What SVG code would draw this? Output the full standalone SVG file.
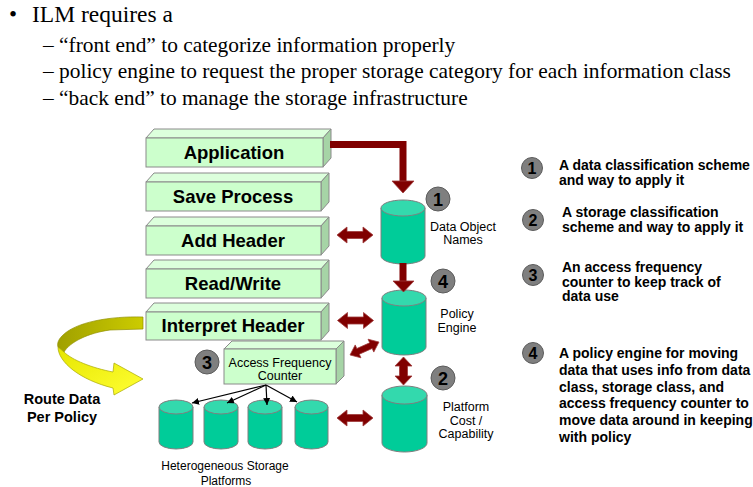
<svg xmlns="http://www.w3.org/2000/svg" width="753" height="487" viewBox="0 0 753 487">
<style>
.serif{font-family:"Liberation Serif","Times New Roman",serif;fill:#000}
.sans{font-family:"Liberation Sans",Arial,sans-serif;fill:#000}
.boxtxt{font-size:18.5px;font-weight:bold;text-anchor:middle}
.front{fill:#ccffcc;stroke:#8a8a8a;stroke-width:1}
.top{fill:#dcffdc;stroke:#8a8a8a;stroke-width:1}
.side{fill:#a6d4a6;stroke:#8a8a8a;stroke-width:1}
.cylb{fill:#00cc99;stroke:#7f7f7f;stroke-width:1}
.cylt{fill:#33d9ad;stroke:#7f7f7f;stroke-width:1}
.lbl{font-size:12.5px;text-anchor:middle}
.num{fill:#7f7f7f;stroke:#5c5c5c;stroke-width:1}
.numtxt{font-size:18px;font-weight:bold;text-anchor:middle}
.lnum{font-size:16px;font-weight:bold;text-anchor:middle}
.leg{font-size:14px;font-weight:bold}
.red{fill:#800000;stroke:#a03a3a;stroke-width:0.8}
.thin{stroke:#000;stroke-width:1.2;fill:none}
</style>
<defs>
<path id="dbl" d="M-18,0 L-8,-8 L-8,-3.5 L8,-3.5 L8,-8 L18,0 L8,8 L8,3.5 L-8,3.5 L-8,8 Z"/>
<marker id="ah" viewBox="0 0 10 10" refX="10" refY="5" markerWidth="7" markerHeight="7" orient="auto" markerUnits="userSpaceOnUse">
<path d="M0,0 L10,5 L0,10 Z" fill="#000"/>
</marker>
<linearGradient id="gYel" x1="0" y1="0" x2="1" y2="1">
<stop offset="0" stop-color="#e6e600"/>
<stop offset="1" stop-color="#ffff33"/>
</linearGradient>
<linearGradient id="gOl" x1="0" y1="0" x2="1" y2="0">
<stop offset="0" stop-color="#a0a000"/>
<stop offset="1" stop-color="#cccc00"/>
</linearGradient>
</defs>

<g id="bullets">
<text class="serif" x="9" y="22" font-size="23">•</text>
<text class="serif" x="32" y="22" font-size="23.5">ILM requires a</text>
<text class="serif" x="43" y="52" font-size="21.4">– “front end” to categorize information properly</text>
<text class="serif" x="43" y="78" font-size="21.4">– policy engine to request the proper storage category for each information class</text>
<text class="serif" x="43" y="105" font-size="21.4">– “back end” to manage the storage infrastructure</text>
</g>

<g id="application">
<polygon class="top" points="146,138 154,129 331,129 323,138"/>
<polygon class="side" points="323,138 331,129 331,158 323,167"/>
<rect class="front" x="146" y="138" width="177" height="29"/>
<text class="sans boxtxt" x="234" y="159">Application</text>
</g>
<g id="save-process">
<polygon class="top" points="146,182 154,173 329,173 321,182"/>
<polygon class="side" points="321,182 329,173 329,202 321,211"/>
<rect class="front" x="146" y="182" width="175" height="29"/>
<text class="sans boxtxt" x="233" y="203">Save Process</text>
</g>
<g id="add-header">
<polygon class="top" points="146,226 154,217 329,217 321,226"/>
<polygon class="side" points="321,226 329,217 329,246 321,255"/>
<rect class="front" x="146" y="226" width="175" height="29"/>
<text class="sans boxtxt" x="233" y="247">Add Header</text>
</g>
<g id="read-write">
<polygon class="top" points="146,269 154,260 329,260 321,269"/>
<polygon class="side" points="321,269 329,260 329,289 321,298"/>
<rect class="front" x="146" y="269" width="175" height="29"/>
<text class="sans boxtxt" x="233" y="290">Read/Write</text>
</g>
<g id="interpret-header">
<polygon class="top" points="146,312 154,303 329,303 321,312"/>
<polygon class="side" points="321,312 329,303 329,331 321,340"/>
<rect class="front" x="146" y="312" width="175" height="28"/>
<text class="sans boxtxt" x="233" y="332">Interpret Header</text>
</g>

<g id="access-frequency-counter">
<polygon class="top" points="224,349 232,341 344,341 336,349"/>
<polygon class="side" points="336,349 344,341 344,376 336,384"/>
<rect class="front" x="224" y="349" width="112" height="35"/>
<text class="sans" x="280" y="366.5" font-size="12.5" text-anchor="middle">Access Frequency</text>
<text class="sans" x="280" y="380" font-size="12.5" text-anchor="middle">Counter</text>
<circle class="num" cx="207" cy="362" r="12"/>
<text class="sans numtxt" x="207" y="368.5">3</text>
</g>

<g id="route-data">
<path d="M143,317 C110,316 75,322 62,336 C58,340 57,344 58,347 L64,352 C70,342 88,333 110,330 L143,329 Z" fill="url(#gOl)" stroke="#909000" stroke-width="0.7"/>
<path d="M58,347 C58,362 80,380 113,388 L114,395 L143,379 L114,363 L113,372 C92,368 72,360 64,352 Z" fill="url(#gYel)" stroke="#a8a800" stroke-width="0.7"/>
<text class="sans" x="62" y="404" font-size="14.5" font-weight="bold" text-anchor="middle">Route Data</text>
<text class="sans" x="62" y="422" font-size="14.5" font-weight="bold" text-anchor="middle">Per Policy</text>
</g>

<g id="storage-platforms">
<path class="cylb" d="M159,407 L159,442 A17,7 0 0 0 193,442 L193,407 Z"/>
<ellipse class="cylt" cx="176" cy="407" rx="17" ry="7"/>
<path class="cylb" d="M204,407 L204,442 A17,7 0 0 0 238,442 L238,407 Z"/>
<ellipse class="cylt" cx="221" cy="407" rx="17" ry="7"/>
<path class="cylb" d="M248,407 L248,442 A17,7 0 0 0 282,442 L282,407 Z"/>
<ellipse class="cylt" cx="265" cy="407" rx="17" ry="7"/>
<path class="cylb" d="M295,407 L295,442 A16.5,7 0 0 0 328,442 L328,407 Z"/>
<ellipse class="cylt" cx="311.5" cy="407" rx="16.5" ry="7"/>
<text class="sans" x="225" y="470" font-size="12" text-anchor="middle">Heterogeneous Storage</text>
<text class="sans" x="226" y="484.5" font-size="12" text-anchor="middle">Platforms</text>
</g>

<g id="data-object-names">
<path class="cylb" d="M381,208 L381,256 A22,8 0 0 0 425,256 L425,208 Z"/>
<ellipse class="cylt" cx="403" cy="208" rx="22" ry="8"/>
<text class="sans lbl" x="463" y="230.5">Data Object</text>
<text class="sans lbl" x="463" y="243.5">Names</text>
<circle class="num" cx="438" cy="199" r="12"/>
<text class="sans numtxt" x="438" y="205.5">1</text>
</g>

<g id="policy-engine">
<path class="cylb" d="M382,298 L382,347 A22,8 0 0 0 426,347 L426,298 Z"/>
<ellipse class="cylt" cx="404" cy="298" rx="22" ry="8"/>
<text class="sans lbl" x="457" y="317.5">Policy</text>
<text class="sans lbl" x="457" y="331.5">Engine</text>
<circle class="num" cx="443" cy="281" r="12"/>
<text class="sans numtxt" x="443" y="287.5">4</text>
</g>

<g id="platform-cost">
<path class="cylb" d="M382,395 L382,443 A22.5,9 0 0 0 427,443 L427,395 Z"/>
<ellipse class="cylt" cx="404.5" cy="395" rx="22.5" ry="9"/>
<text class="sans lbl" x="466" y="410.5">Platform</text>
<text class="sans lbl" x="466" y="424.5">Cost /</text>
<text class="sans lbl" x="466" y="438">Capability</text>
<circle class="num" cx="443" cy="378" r="12"/>
<text class="sans numtxt" x="443" y="384.5">2</text>
</g>

<g id="connectors">
<path d="M330,144.5 L403,144.5 L403,183" fill="none" stroke="#800000" stroke-width="7"/>
<polygon class="red" points="392,181 414,181 403,193"/>
<rect x="399.5" y="263" width="7" height="18" fill="#800000"/>
<polygon class="red" points="393,281 414,281 403.5,292"/>
<path class="red" d="M403.5,357 L412,366 L407.5,366 L407.5,376 L412,376 L403.5,385 L395,376 L399.5,376 L399.5,366 L395,366 Z"/>
<use href="#dbl" class="red" transform="translate(355,235)"/>
<use href="#dbl" class="red" transform="translate(355.5,320.5)"/>
<use href="#dbl" class="red" transform="translate(364.5,348.5) rotate(-24) scale(0.88)"/>
<use href="#dbl" class="red" transform="translate(355,418)"/>
<line class="thin" x1="266" y1="385" x2="192" y2="403" marker-end="url(#ah)"/>
<line class="thin" x1="266" y1="385" x2="227" y2="403" marker-end="url(#ah)"/>
<line class="thin" x1="266" y1="385" x2="267" y2="405" marker-end="url(#ah)"/>
<line class="thin" x1="266" y1="385" x2="297" y2="402" marker-end="url(#ah)"/>
</g>

<g id="legend-1">
<circle class="num" cx="532" cy="168" r="10.5"/>
<text class="sans lnum" x="532" y="174">1</text>
<text class="sans leg" x="559" y="170">A data classification scheme</text>
<text class="sans leg" x="559" y="185">and way to apply it</text>
</g>
<g id="legend-2">
<circle class="num" cx="533" cy="220" r="10.5"/>
<text class="sans lnum" x="533" y="226">2</text>
<text class="sans leg" x="562" y="217">A storage classification</text>
<text class="sans leg" x="562" y="232">scheme and way to apply it</text>
</g>
<g id="legend-3">
<circle class="num" cx="533" cy="275" r="10.5"/>
<text class="sans lnum" x="533" y="281">3</text>
<text class="sans leg" x="562" y="272">An access frequency</text>
<text class="sans leg" x="562" y="286.5">counter to keep track of</text>
<text class="sans leg" x="562" y="301">data use</text>
</g>
<g id="legend-4">
<circle class="num" cx="533" cy="353" r="10.5"/>
<text class="sans lnum" x="533" y="359">4</text>
<text class="sans leg" x="559" y="358">A policy engine for moving</text>
<text class="sans leg" x="559" y="375">data that uses info from data</text>
<text class="sans leg" x="559" y="391.5">class, storage class, and</text>
<text class="sans leg" x="559" y="408">access frequency counter to</text>
<text class="sans leg" x="559" y="425">move data around in keeping</text>
<text class="sans leg" x="559" y="442">with policy</text>
</g>
</svg>
